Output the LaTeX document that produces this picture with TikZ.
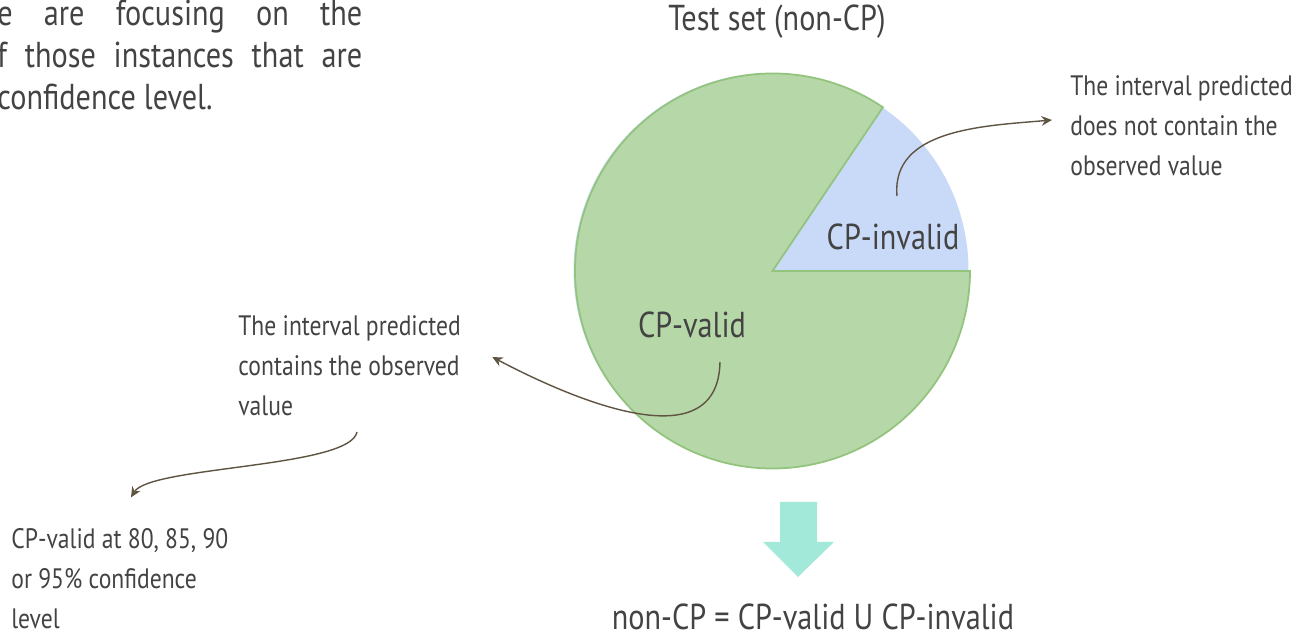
\documentclass[tikz,border=0pt]{standalone}
\usepackage{fontspec}
\setmainfont{PT Sans}[FakeStretch=0.84]
\usepackage{xcolor}
\usepackage{tikz}
\usetikzlibrary{arrows.meta}

\definecolor{validgreen}{HTML}{B6D7A8}
\definecolor{validedge}{HTML}{93C47D}
\definecolor{invalidblue}{HTML}{C9DAF8}
\definecolor{textgray}{HTML}{434343}
\definecolor{pointerbrown}{HTML}{5F5442}
\definecolor{downteal}{HTML}{A3E9D9}

\tikzset{
  note/.style={align=left, inner sep=0pt, text=textgray, font=\fontsize{16}{22.8}\selectfont},
  bigtext/.style={inner sep=0pt, text=textgray, font=\fontsize{20.5}{23.9}\selectfont},
  pointer/.style={draw=pointerbrown, line width=0.8pt, -{Stealth[length=6pt,width=5.5pt,inset=2pt]}}
}

\begin{document}
\begin{tikzpicture}[x=0.02cm,y=0.02cm]
                \useasboundingbox (0,0) rectangle (1299,638);
                \fill[invalidblue] (771,367.5) circle[radius=197.5];
                \filldraw[fill=validgreen,draw=validedge,line width=1pt]
                (772.5,367) -- ++(56:197.5) arc[start angle=56,end angle=360,radius=197.5] -- cycle;
                \node[bigtext] (invalid) at (893,401) {CP-invalid};
                \node[bigtext] (valid) at (692,313) {CP-valid};
                \node[bigtext] (testset) at (777,616) {Test set (non-CP)};
                \node[bigtext] (union) at (813,21) {non-CP = CP-valid U CP-invalid};
                \node[bigtext, align=left, anchor=west] (intro) at (-3,583)
                {\makebox[7.3cm][s]{e are focusing on the}\\\makebox[7.3cm][s]{f those instances that are}\\confidence level.};
                \node[note, anchor=west] (outnote) at (1070,512) {The interval predicted\\does not contain the\\observed value};
                \node[note, anchor=west] (innote) at (238,272) {The interval predicted\\contains the observed\\value};
                \node[note, anchor=west] (levels) at (11,59) {CP-valid at 80, 85, 90\\or 95\% confidence\\level};
                \coordinate (invtail) at (897,442);
                \coordinate (validtail) at (720,276);
                \coordinate (notetail) at (357,206);
                \draw[pointer] (invtail) to[out=95,in=185] ([xshift=-0.36cm,yshift=0.12cm]outnote.west);
                \draw[pointer] (validtail) .. controls (718,175) and (570,240) .. ([xshift=0.62cm,yshift=0.18cm]innote.east);
                \draw[pointer] (notetail) .. controls (350,170) and (150,172) .. ([xshift=2.4cm,yshift=0.62cm]levels.north west);
                \fill[downteal] (780,136) -- (817,136) -- (817,96) -- (834,96) -- (798,61) -- (763,96) -- (780,96) -- cycle;
            \end{tikzpicture}
\end{document}
